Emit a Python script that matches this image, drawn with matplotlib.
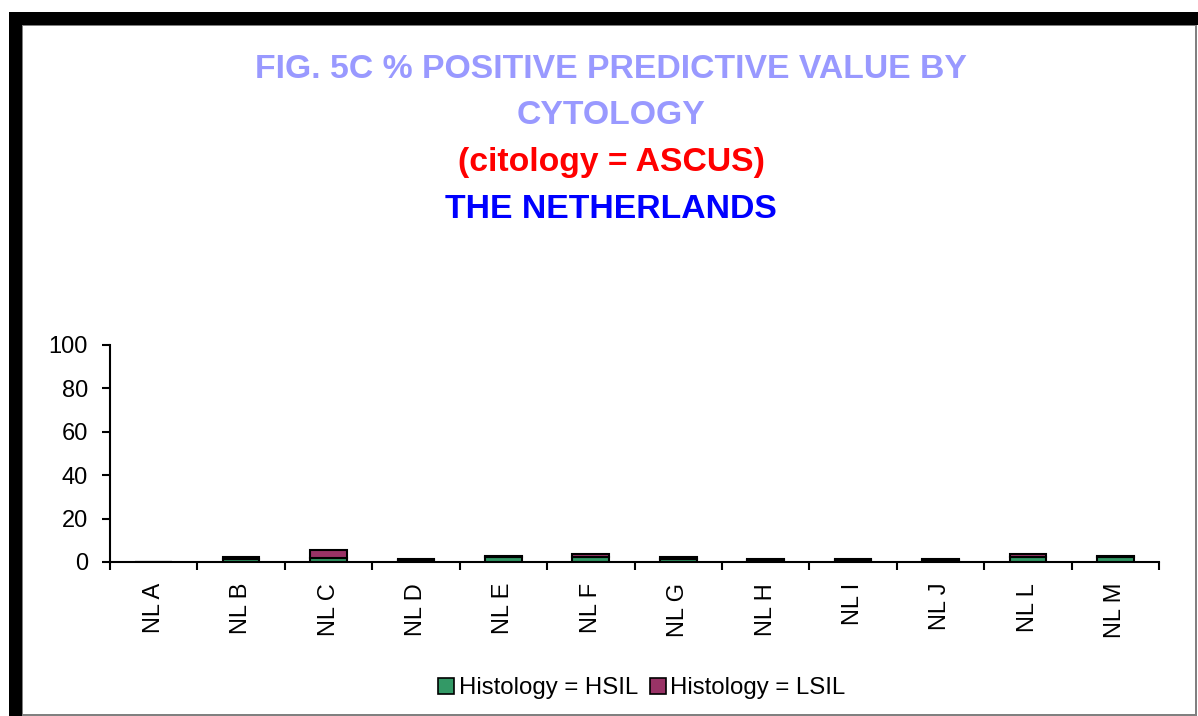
import matplotlib
matplotlib.use("Agg")
import matplotlib.pyplot as plt
from matplotlib.patches import Rectangle, Patch
import numpy as np

categories = ["NL A", "NL B", "NL C", "NL D", "NL E", "NL F", "NL G", "NL H", "NL I", "NL J", "NL L", "NL M"]
hsil = [0, 1.5, 2.0, 0.8, 2.5, 2.5, 1.5, 0.8, 0.8, 0.8, 2.5, 2.5]
lsil = [0, 1.0, 3.7, 0.5, 0.2, 1.2, 1.0, 0.5, 0.5, 0.5, 1.2, 0.2]
yticks = [0, 20, 40, 60, 80, 100]

plt.rcParams['font.family'] = ['Liberation Sans', 'DejaVu Sans']

W, H = 1198, 716
fig = plt.figure(figsize=(W / 100, H / 100), dpi=100)
fig.patch.set_facecolor("white")

def px(x0, y0, x1, y1):
    return (x0 / W, 1 - y1 / H, (x1 - x0) / W, (y1 - y0) / H)

# frame
for (x0, y0, x1, y1), c in [((9, 12, W, 25), "black"), ((9, 12, 22, H), "black"),
                            ((1195, 25, 1197, H), "#808080"), ((22, 713.5, 1197, 715.5), "#808080"),
                            ((22, 25, 1197, 26), "#808080"), ((22, 25, 23, H), "#808080")]:
    l, b, w, h = px(x0, y0, x1, y1)
    fig.patches.append(Rectangle((l, b), w, h, transform=fig.transFigure, facecolor=c, edgecolor="none", zorder=0))

ax = fig.add_axes([110 / W, 1 - 562 / H, (1159 - 110) / W, (562 - 345) / H])
x = np.arange(len(categories))
ax.bar(x, hsil, width=0.42, color="#339966", edgecolor="black", linewidth=1.5, label="Histology = HSIL")
ax.bar(x, lsil, width=0.42, bottom=hsil, color="#993366", edgecolor="black", linewidth=1.5, label="Histology = LSIL")

ax.set_xlim(-0.5, len(categories) - 0.5)
ax.set_ylim(0, 100)
ax.set_yticks(yticks)
ax.set_yticklabels([str(v) for v in yticks], fontsize=17)
ax.set_xticks(np.arange(len(categories) + 1) - 0.5)
ax.set_xticklabels([])
ax.set_xticks(x, minor=True)
ax.set_xticklabels(categories, minor=True, rotation=90, fontsize=17)
ax.tick_params(axis="x", which="minor", length=0, pad=15)
ax.tick_params(axis="x", which="major", length=6, width=1.5, direction="out")
ax.tick_params(axis="y", length=6, width=1.5, direction="out", pad=10)
for s in ["top", "right"]:
    ax.spines[s].set_visible(False)
for s in ["left", "bottom"]:
    ax.spines[s].set_linewidth(1.5)

cx = 611 / W
fig.text(cx, 1 - 70 / H, "FIG. 5C % POSITIVE PREDICTIVE VALUE BY", color="#9999FF", fontsize=24.3, fontweight="bold", ha="center", va="center")
fig.text(cx, 1 - 116 / H, "CYTOLOGY", color="#9999FF", fontsize=24.3, fontweight="bold", ha="center", va="center")
fig.text(cx, 1 - 163 / H, "(citology = ASCUS)", color="#FF0000", fontsize=24.3, fontweight="bold", ha="center", va="center")
fig.text(cx, 1 - 210 / H, "THE NETHERLANDS", color="#0000FF", fontsize=24.3, fontweight="bold", ha="center", va="center")

handles = [Patch(facecolor="#339966", edgecolor="black", linewidth=1.2),
           Patch(facecolor="#993366", edgecolor="black", linewidth=1.2)]
fig.legend(handles, ["Histology = HSIL", "Histology = LSIL"], loc="center", bbox_to_anchor=(642 / W, 1 - 688 / H),
           ncol=2, frameon=False, fontsize=17.3, handlelength=0.65, handleheight=0.65, handletextpad=0.2,
           columnspacing=0.5, borderpad=0)

fig.savefig("out.png", dpi=100, facecolor="white")
